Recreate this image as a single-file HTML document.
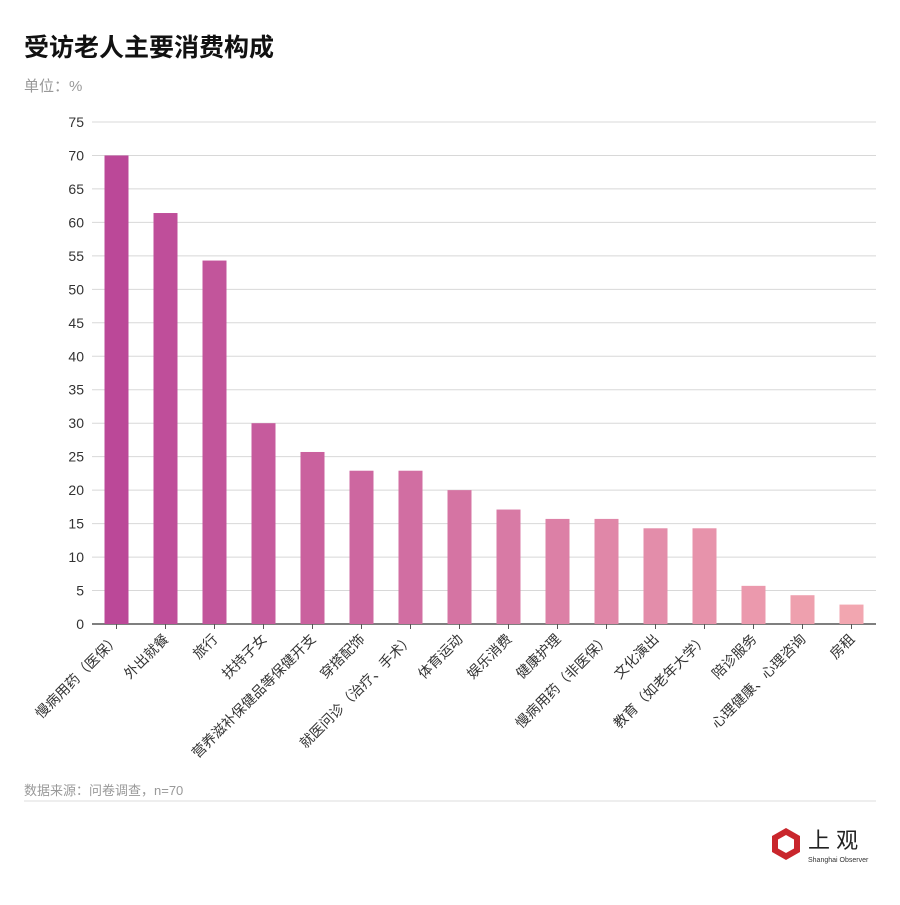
<!DOCTYPE html>
<html><head><meta charset="utf-8"><style>
body{margin:0;background:#fff;}
svg text{font-family:"Liberation Sans","Noto Sans CJK SC",sans-serif;}
</style></head><body>
<svg id="chart" width="900" height="900" viewBox="0 0 900 900" xmlns="http://www.w3.org/2000/svg">
<text x="24" y="56" font-size="25" font-weight="bold" fill="#111">受访老人主要消费构成</text>
<text x="24" y="91" font-size="15" fill="#999">单位：%</text>
<g id="grid"></g>
<g id="bars"></g>
<g id="xlabels"></g>
<line x1="24" y1="801" x2="876" y2="801" stroke="#ddd"/>
<text x="24" y="795" font-size="13" fill="#999">数据来源：问卷调查，n=70</text>
<g>
<polygon points="786,828 800,836 800,852 786,860 772,852 772,836" fill="#c9262c"/>
<polygon points="786,835 794,839.5 794,848.5 786,853 778,848.5 778,839.5" fill="#fff"/>
<text x="808" y="848" font-size="22" fill="#222">上 观</text>
<text x="808" y="862" font-size="7" fill="#333">Shanghai Observer</text>
</g>
</svg>
<script>
const categories=["慢病用药（医保）","外出就餐","旅行","扶持子女","营养滋补保健品等保健开支","穿搭配饰","就医问诊（治疗、手术）","体育运动","娱乐消费","健康护理","慢病用药（非医保）","文化演出","教育（如老年大学）","陪诊服务","心理健康、心理咨询","房租"];
const values=[70,61.4,54.3,30,25.7,22.9,22.9,20,17.1,15.7,15.7,14.3,14.3,5.7,4.3,2.9];
const ticks=[0,5,10,15,20,25,30,35,40,45,50,55,60,65,70,75];
const NS="http://www.w3.org/2000/svg";
const x0=92,x1=876,yTop=122,yBot=624,yMax=75;
const y=v=>yBot-(v/yMax)*(yBot-yTop);
const step=(x1-x0)/categories.length;
const xc=i=>x0+step*(i+0.5);
function mk(tag,attrs,parent){const e=document.createElementNS(NS,tag);for(const k in attrs)e.setAttribute(k,attrs[k]);parent.appendChild(e);return e;}
const grid=document.getElementById('grid'),bars=document.getElementById('bars'),xl=document.getElementById('xlabels');
ticks.forEach(t=>{
  const l=mk('line',{x1:x0,x2:x1,y1:y(t),y2:y(t),stroke:t===0?'#555':'#d8d8d8','stroke-width':t===0?1.5:1},grid);
  
  
  const tx=mk('text',{x:84,y:y(t)+5,'text-anchor':'end','font-size':14,fill:'#333'},grid);
  tx.textContent=t;
  
  
});
const c0=[187,72,152],c1=[242,166,176];
categories.forEach((c,i)=>{
  const f=i/(categories.length-1);
  const col=`rgb(${c0.map((v,k)=>Math.round(v+(c1[k]-v)*f)).join(',')})`;
  const r=mk('rect',{x:xc(i)-12,y:y(values[i]),width:24,height:yBot-y(values[i]),fill:col},bars);
  
  
  const tk=mk('line',{x1:xc(i),x2:xc(i),y1:yBot,y2:yBot+5,stroke:'#555'},xl);
  
  
  const t=mk('text',{x:0,y:0,'text-anchor':'end','font-size':14,fill:'#333',transform:`translate(${xc(i)+4},${yBot+16}) rotate(-45)`},xl);
  t.textContent=c;
  
  
});
</script>
</body></html>
